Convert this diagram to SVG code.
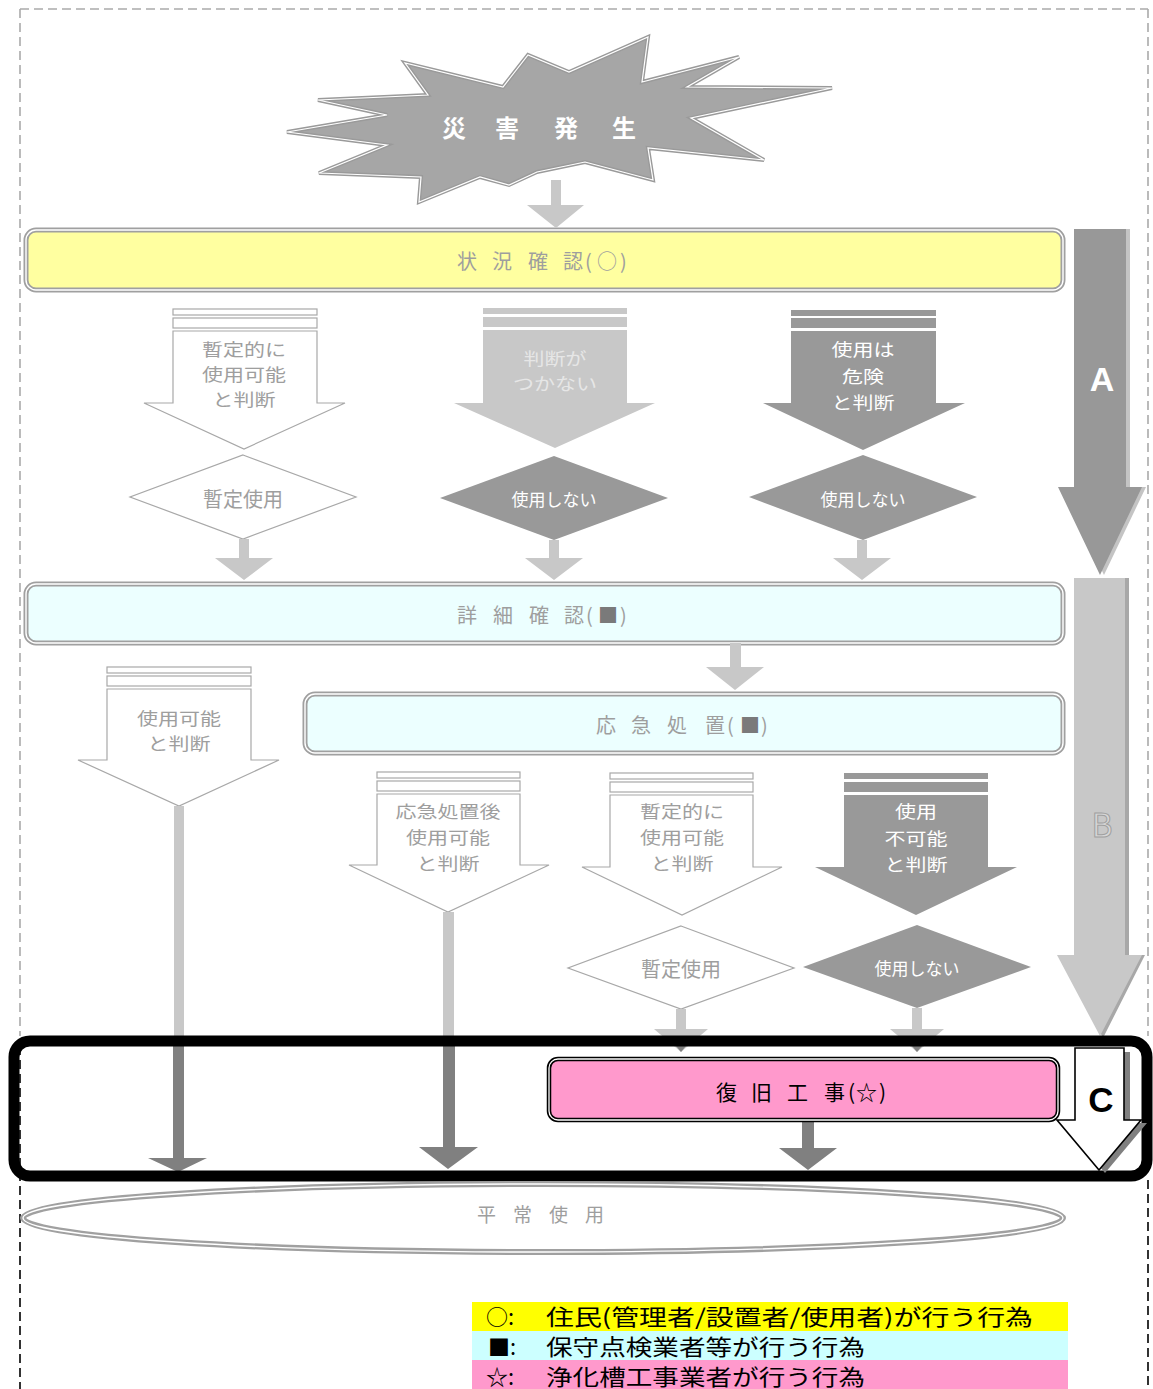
<svg xmlns="http://www.w3.org/2000/svg" width="1153" height="1389" viewBox="0 0 1153 1389">
<style>
text{font-family:"Noto Sans CJK JP","Noto Sans CJK SC",sans-serif}
.c{text-anchor:middle;dominant-baseline:central}
.s{dominant-baseline:central}
.m{font-size:17.2px}
.gt{fill:#9e9e9e}
.wt{fill:#ffffff}
.ow{fill:#ffffff;stroke:#a8a8a8;stroke-width:1.2}
.lt{fill:#c8c8c8}
.dk{fill:#999999}
.dark{fill:#808080}
.boxo{stroke:#a0a0a0;stroke-width:5}
.boxi{fill:none;stroke:#ffffff;stroke-width:1.4}
.dash{fill:none;stroke-width:1.6;stroke-dasharray:9 5}
.lat{font-family:"Liberation Sans",Arial,sans-serif;font-weight:bold}
</style>
<rect width="1153" height="1389" fill="#ffffff"/>
<g id="border">
<path class="dash" stroke="#aaaaaa" d="M20 9 H1148 M20 9 V1036 M1148 9 V1036"/>
<path class="dash" stroke="#000000" d="M20 1046 V1389 M1148 1180 V1389"/>
</g>

<g id="n-start">
<polygon points="287,132 387,115 318,100 428,95 405,63 503,87 528,55 569,72 648,37 642,82 739,57 687,87 832,88 691,118 764,160 648,148 653,180 585,162 537,172 509,185 480,177 419,202 421,177 319,173 387,145" fill="#a6a6a6" stroke="#9a9a9a" stroke-width="4"/>
<polygon points="287,132 387,115 318,100 428,95 405,63 503,87 528,55 569,72 648,37 642,82 739,57 687,87 832,88 691,118 764,160 648,148 653,180 585,162 537,172 509,185 480,177 419,202 421,177 319,173 387,145" fill="none" stroke="#ffffff" stroke-width="1.2"/>
<text class="s wt" font-size="24" font-weight="bold" x="442 495 554 612" y="126">災害発生</text>
</g>

<g id="n-jokyo">
<rect class="boxo" x="26" y="230" width="1037" height="60" rx="10" fill="#ffffa0"/>
<rect class="boxi" x="26" y="230" width="1037" height="60" rx="10"/>
<text class="s gt" font-size="20" x="457 492 528 563 585 597 620" y="260">状況確認(○)</text>
</g>

<g id="n-arrow-a">
<polygon points="1078,229 1130,229 1130,487 1146,487 1104,575 1062,487 1078,487" fill="#c4c4c4"/>
<polygon points="1074,229 1126,229 1126,487 1142,487 1100,575 1058,487 1074,487" fill="#989898"/>
<text class="c lat wt" font-size="34" x="1102" y="379">A</text>
</g>

<g id="n-arrow-b">
<polygon points="1078,578 1129,578 1129,955 1145,955 1103,1038 1061,955 1078,955" fill="#a8a8a8"/>
<polygon points="1074,578 1125,578 1125,955 1142,955 1100,1036 1057,955 1074,955" fill="#c8c8c8"/>
<text class="c" font-family="Liberation Sans,Arial,sans-serif" font-size="32" x="1102" y="823" fill="#d6d6d6" stroke="#a0a0a0" stroke-width="1">B</text>
</g>

<g id="n-zantei1">
<rect class="ow" x="173" y="309" width="144" height="6"/>
<rect class="ow" x="173" y="318" width="144" height="10"/>
<polygon class="ow" points="173,331 317,331 317,403 345,403 244,449 144,403 173,403"/>
<text class="c gt m" x="244" y="348" textLength="84" lengthAdjust="spacingAndGlyphs">暫定的に</text>
<text class="c gt m" x="244" y="373" textLength="84" lengthAdjust="spacingAndGlyphs">使用可能</text>
<text class="c gt m" x="244" y="398" textLength="63" lengthAdjust="spacingAndGlyphs">と判断</text>
</g>

<g id="n-handan">
<rect class="lt" x="483" y="308" width="144" height="6"/>
<rect class="lt" x="483" y="317" width="144" height="10"/>
<polygon class="lt" points="483,330 627,330 627,403 655,403 555,448 454,403 483,403"/>
<text class="c m" fill="#e6e6e6" x="555" y="357" textLength="63" lengthAdjust="spacingAndGlyphs">判断が</text>
<text class="c m" fill="#e6e6e6" x="555" y="382" textLength="84" lengthAdjust="spacingAndGlyphs">つかない</text>
</g>

<g id="n-kiken">
<rect class="dk" x="791" y="310" width="145" height="6"/>
<rect class="dk" x="791" y="318" width="145" height="10"/>
<polygon class="dk" points="791,331 936,331 936,403 965,403 863,450 763,403 791,403"/>
<text class="c wt m" x="863" y="348" textLength="63" lengthAdjust="spacingAndGlyphs">使用は</text>
<text class="c wt m" x="863" y="375" textLength="42" lengthAdjust="spacingAndGlyphs">危険</text>
<text class="c wt m" x="863" y="401" textLength="63" lengthAdjust="spacingAndGlyphs">と判断</text>
</g>

<g id="n-d1">
<polygon class="ow" points="243,455 356,497 243,539 130,497"/>
<text class="c gt" font-size="20" x="243" y="498">暫定使用</text>
</g>
<g id="n-d2">
<polygon class="dk" points="554,456 668,498 554,540 440,498"/>
<text class="c wt" font-size="17" x="554" y="498">使用しない</text>
</g>
<g id="n-d3">
<polygon class="dk" points="863,455 977,497 863,540 749,497"/>
<text class="c wt" font-size="17" x="863" y="498">使用しない</text>
</g>

<g id="n-shosai">
<rect class="boxo" x="26" y="584" width="1037" height="59" rx="10" fill="#ecffff"/>
<rect class="boxi" x="26" y="584" width="1037" height="59" rx="10"/>
<text class="s gt" font-size="20" x="457 493 529 564 586 598 620" y="614">詳細確認(<tspan fill="#7a7a7a">■</tspan>)</text>
</g>

<g id="n-okyu">
<rect class="boxo" x="305" y="694" width="758" height="59" rx="10" fill="#ecffff"/>
<rect class="boxi" x="305" y="694" width="758" height="59" rx="10"/>
<text class="s gt" font-size="20" x="596 631 667 705 727 740 761" y="724">応急処置(<tspan fill="#7a7a7a">■</tspan>)</text>
</g>

<g id="n-kano">
<rect class="ow" x="107" y="667" width="144" height="6"/>
<rect class="ow" x="107" y="676" width="144" height="10"/>
<polygon class="ow" points="107,689 251,689 251,760 279,760 179,806 78,760 107,760"/>
<text class="c gt m" x="179" y="717" textLength="84" lengthAdjust="spacingAndGlyphs">使用可能</text>
<text class="c gt m" x="179" y="742" textLength="63" lengthAdjust="spacingAndGlyphs">と判断</text>
</g>

<g id="n-okyugo">
<rect class="ow" x="377" y="772" width="143" height="6"/>
<rect class="ow" x="377" y="781" width="143" height="10"/>
<polygon class="ow" points="377,794 520,794 520,865 549,865 448,912 349,865 377,865"/>
<text class="c gt m" x="448" y="810" textLength="105" lengthAdjust="spacingAndGlyphs">応急処置後</text>
<text class="c gt m" x="448" y="836" textLength="84" lengthAdjust="spacingAndGlyphs">使用可能</text>
<text class="c gt m" x="448" y="862" textLength="63" lengthAdjust="spacingAndGlyphs">と判断</text>
</g>

<g id="n-zantei2">
<rect class="ow" x="610" y="773" width="143" height="6"/>
<rect class="ow" x="610" y="782" width="143" height="10"/>
<polygon class="ow" points="610,795 753,795 753,867 782,867 682,915 582,867 610,867"/>
<text class="c gt m" x="682" y="810" textLength="84" lengthAdjust="spacingAndGlyphs">暫定的に</text>
<text class="c gt m" x="682" y="836" textLength="84" lengthAdjust="spacingAndGlyphs">使用可能</text>
<text class="c gt m" x="682" y="862" textLength="63" lengthAdjust="spacingAndGlyphs">と判断</text>
</g>

<g id="n-fukano">
<rect class="dk" x="844" y="773" width="144" height="6"/>
<rect class="dk" x="844" y="782" width="144" height="10"/>
<polygon class="dk" points="844,795 988,795 988,867 1017,867 916,915 815,867 844,867"/>
<text class="c wt m" x="916" y="810" textLength="42" lengthAdjust="spacingAndGlyphs">使用</text>
<text class="c wt m" x="916" y="837" textLength="63" lengthAdjust="spacingAndGlyphs">不可能</text>
<text class="c wt m" x="916" y="863" textLength="63" lengthAdjust="spacingAndGlyphs">と判断</text>
</g>

<g id="n-d4">
<polygon class="ow" points="681,926 794,968 681,1009 568,968"/>
<text class="c gt" font-size="20" x="681" y="968">暫定使用</text>
</g>
<g id="n-d5">
<polygon class="dk" points="917,925 1031,967 917,1008 803,967"/>
<text class="c wt" font-size="17" x="917" y="967">使用しない</text>
</g>

<g id="connectors">
<polygon class="lt" points="551,180 561,180 561,205 584,205 556,228 527,205 551,205"/>
<polygon class="lt" points="239,539 249,539 249,558 273,558 244,580 215,558 239,558"/>
<polygon class="lt" points="549,540 559,540 559,558 583,558 554,580 525,558 549,558"/>
<polygon class="lt" points="857,540 867,540 867,558 891,558 862,580 833,558 857,558"/>
<polygon class="lt" points="730,643 741,643 741,667 764,667 735,690 706,667 730,667"/>
<rect class="lt" x="174" y="806" width="10" height="236"/>
<rect class="lt" x="443" y="912" width="11" height="130"/>
<polygon class="lt" points="676,1009 686,1009 686,1029 708,1029 681,1052 654,1029 676,1029"/>
<polygon class="lt" points="912,1008 922,1008 922,1029 944,1029 917,1052 890,1029 912,1029"/>
<polygon class="dark" points="671,1040 691,1040 681,1052"/>
<polygon class="dark" points="907,1040 927,1040 917,1052"/>
<polygon class="dark" points="173,1040 184,1040 184,1158 207,1158 178,1172 148,1158 173,1158"/>
<polygon class="dark" points="443,1040 455,1040 455,1147 478,1147 448,1169 419,1147 443,1147"/>
<polygon class="dark" points="802,1120 814,1120 814,1148 837,1148 808,1170 779,1148 802,1148"/>
</g>

<g id="n-frame">
<rect x="14" y="1041" width="1133" height="135" rx="16" fill="none" stroke="#000000" stroke-width="11"/>
</g>

<g id="n-fukkyu">
<rect x="549" y="1059" width="509" height="61" rx="9" fill="#ff99cc" stroke="#000000" stroke-width="4.5"/>
<rect x="549" y="1059" width="509" height="61" rx="9" fill="none" stroke="#ffffff" stroke-width="1.3"/>
<text class="s" fill="#000000" font-size="21" x="716 751 787 824 848 856 879" y="1091">復旧工事(☆)</text>
</g>

<g id="n-arrow-c">
<polygon points="1080,1052 1130,1052 1130,1123 1147,1123 1105,1173 1063,1123 1080,1123" fill="#808080"/>
<polygon points="1075,1048 1124,1048 1124,1120 1141,1120 1099,1170 1057,1120 1075,1120" fill="#ffffff" stroke="#000000" stroke-width="1.6"/>
<text class="c lat" fill="#000000" font-size="35" x="1101" y="1099">C</text>
</g>

<g id="n-heijo">
<ellipse cx="543" cy="1218" rx="520" ry="34" fill="#ffffff" stroke="#a0a0a0" stroke-width="6"/>
<ellipse cx="543" cy="1218" rx="520" ry="34" fill="none" stroke="#ffffff" stroke-width="1.4"/>
<text class="s gt" font-size="19" x="477 513 549 585" y="1213">平常使用</text>
</g>

<g id="legend">
<rect x="472" y="1302" width="596" height="29" fill="#ffff00"/>
<rect x="472" y="1331" width="596" height="29" fill="#ccffff"/>
<rect x="472" y="1360" width="596" height="29" fill="#ff99cc"/>
<text x="486" y="1325" font-size="22" fill="#000">○:</text>
<text x="546" y="1325" font-size="22" fill="#000" textLength="487" lengthAdjust="spacingAndGlyphs">住民(管理者/設置者/使用者)が行う行為</text>
<text x="488" y="1355" font-size="22" fill="#000">■:</text>
<text x="546" y="1355" font-size="22" fill="#000" textLength="319" lengthAdjust="spacingAndGlyphs">保守点検業者等が行う行為</text>
<text x="486" y="1385" font-size="22" fill="#000">☆:</text>
<text x="546" y="1385" font-size="22" fill="#000" textLength="319" lengthAdjust="spacingAndGlyphs">浄化槽工事業者が行う行為</text>
</g>
</svg>
